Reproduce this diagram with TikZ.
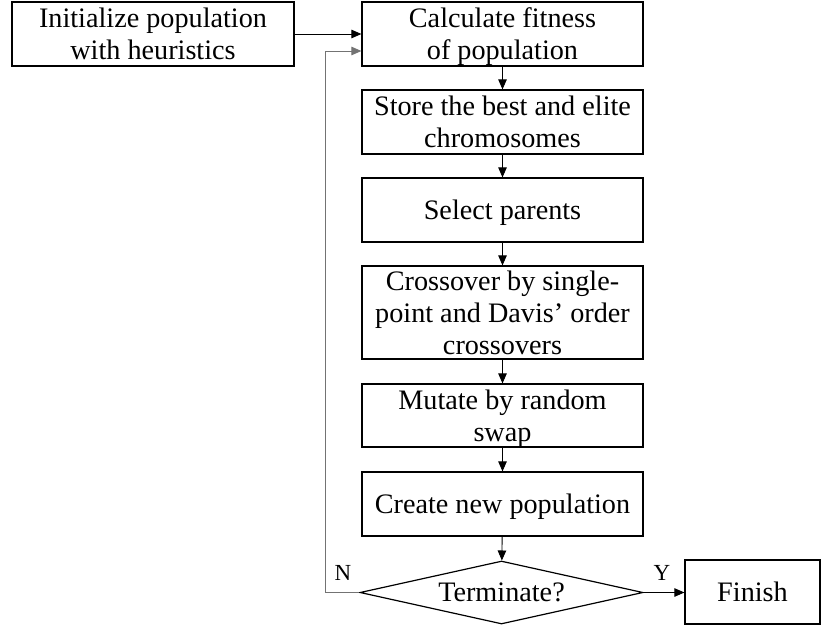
\documentclass[tikz,border=0pt]{standalone}
\usepackage{fontspec}
\setmainfont{Liberation Serif}
\usetikzlibrary{shapes.geometric,arrows.meta}
\begin{document}
\begin{tikzpicture}[x=1pt,y=-1pt,
  txt/.style={font=\fontsize{28.2}{32}\selectfont},
  procbox/.style={draw,line width=1.2pt,minimum width=281pt,minimum height=64pt,text width=276pt,align=flush center,
    inner xsep=0pt,inner ysep=-6pt,txt,execute at begin node={\rule{0pt}{27.5pt}},
    execute at end node={\rule[-8pt]{0pt}{8pt}}},
  endbox/.style={draw,line width=1.2pt,minimum width=135pt,minimum height=64pt,inner sep=0pt,txt},
  decis/.style={draw,diamond,aspect=4.5,line width=1.2pt,minimum width=283pt,minimum height=63pt,inner sep=0pt,txt},
  flow/.style={line width=0.9pt,-{Triangle[length=10pt,width=8.5pt]}},
  loopline/.style={flow,draw=black!55},
  lbl/.style={font=\fontsize{23}{24}\selectfont}]
\useasboundingbox (0,0) rectangle (821,626);
\node[procbox,minimum width=282pt] (init) at (153,34) {Initialize population\\with heuristics};
\node[procbox] (calc) at (502.5,34) {Calculate fitness\\of population};
\node[procbox] (store) at (502.5,122) {Store the best and elite\\chromosomes};
\node[procbox] (sel) at (502.5,210) {Select parents};
\node[procbox,minimum height=93pt] (cross) at (502.5,312.5) {Crossover by single-\\point and Davis' order\\crossovers};
\node[procbox,minimum height=63pt] (mut) at (502.5,415.5) {Mutate by random\\swap};
\node[procbox] (new) at (502.5,504) {Create new population};
\node[decis] (term) at (501.5,592.5) {Terminate?};
\node[endbox] (fin) at (752.5,592) {Finish};
\coordinate (lc) at (325,592.5);
\coordinate (lt) at (325,51);
\coordinate (ci) at (calc.west |- lt);
\draw[flow] (init.east) -- (init.east -| calc.west);
\draw[flow] (calc) -- (store);
\draw[flow] (store) -- (sel);
\draw[flow] (sel) -- (cross);
\draw[flow] (cross) -- (mut);
\draw[flow] (mut) -- (new);
\draw[flow] (new) -- (term);
\draw[flow] (term.east) -- (fin.west |- term.east);
\draw[loopline] (term.west) -- (lc) -- (lt) -- (ci);
\node[lbl] (nl) at (343,573) {N};
\node[lbl] (yl) at (662,573) {Y};
\end{tikzpicture}
\end{document}
